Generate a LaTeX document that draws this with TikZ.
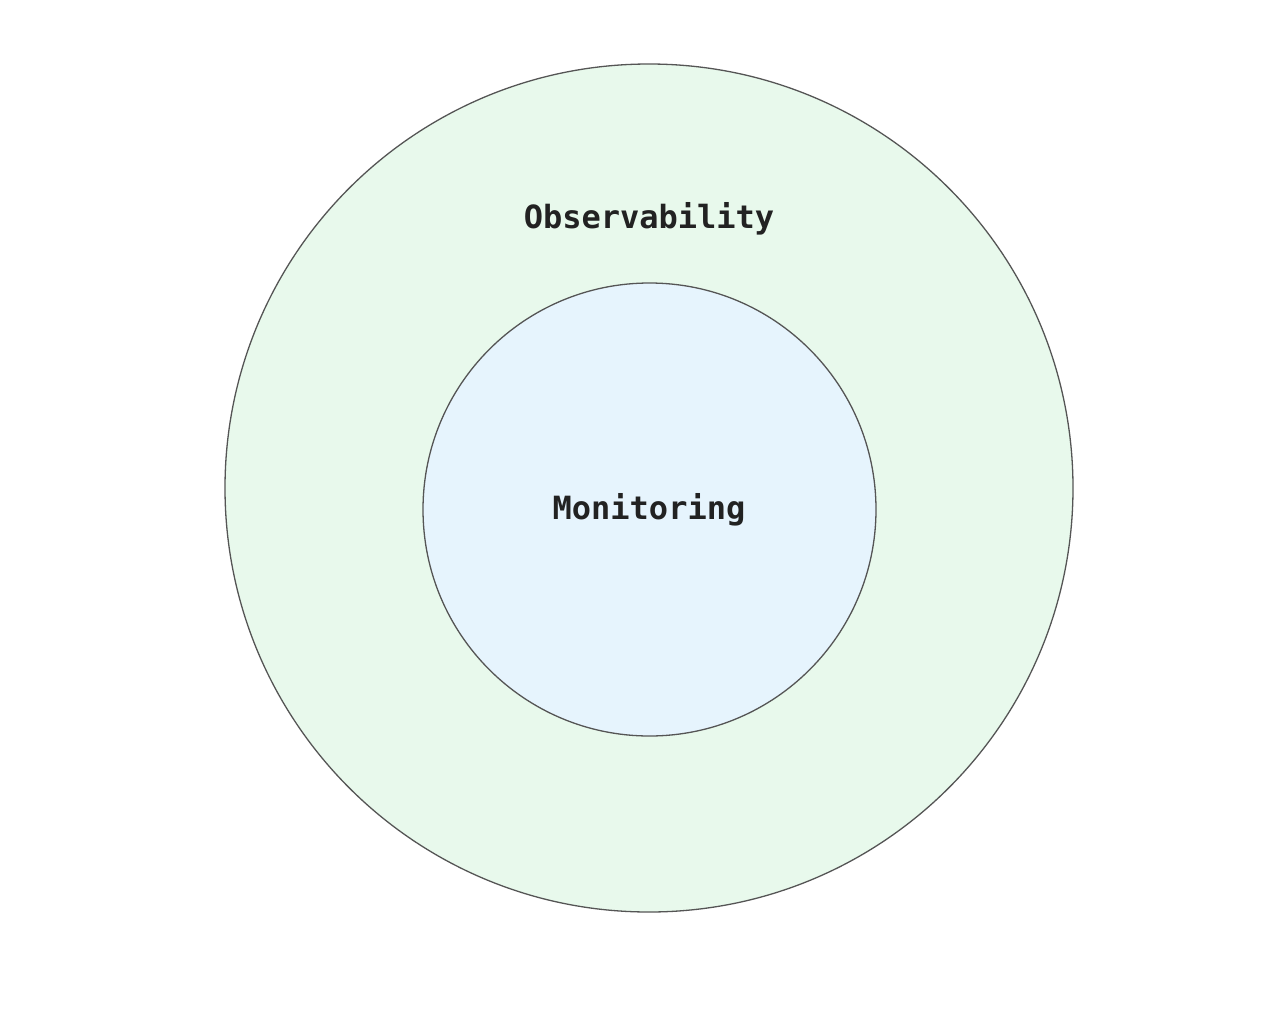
\documentclass[tikz,border=0pt]{standalone}
\usepackage{fontspec}
\setmonofont{DejaVu Sans Mono}
\definecolor{outerfill}{HTML}{E8F9EC}
\definecolor{innerfill}{HTML}{E6F4FD}
\definecolor{ringline}{HTML}{555555}
\definecolor{txt}{HTML}{222222}
\begin{document}
\begin{tikzpicture}[x=1pt,y=-1pt,
  ring/.style={circle,draw=ringline,line width=1.3pt,inner sep=0pt},
  lbl/.style={font=\fontsize{32}{36}\selectfont\ttfamily\bfseries,text=txt}]
\useasboundingbox (0,0) rectangle (1280,1015);
\node[ring,fill=outerfill,minimum size=848pt] (outer) at (649,488) {};
\node[ring,fill=innerfill,minimum size=453pt] (inner) at (649.5,509.5) {};
\node[lbl] (obs) at (649,219) {Observability};
\node[lbl] (mon) at (649,510) {Monitoring};
\end{tikzpicture}
\end{document}
